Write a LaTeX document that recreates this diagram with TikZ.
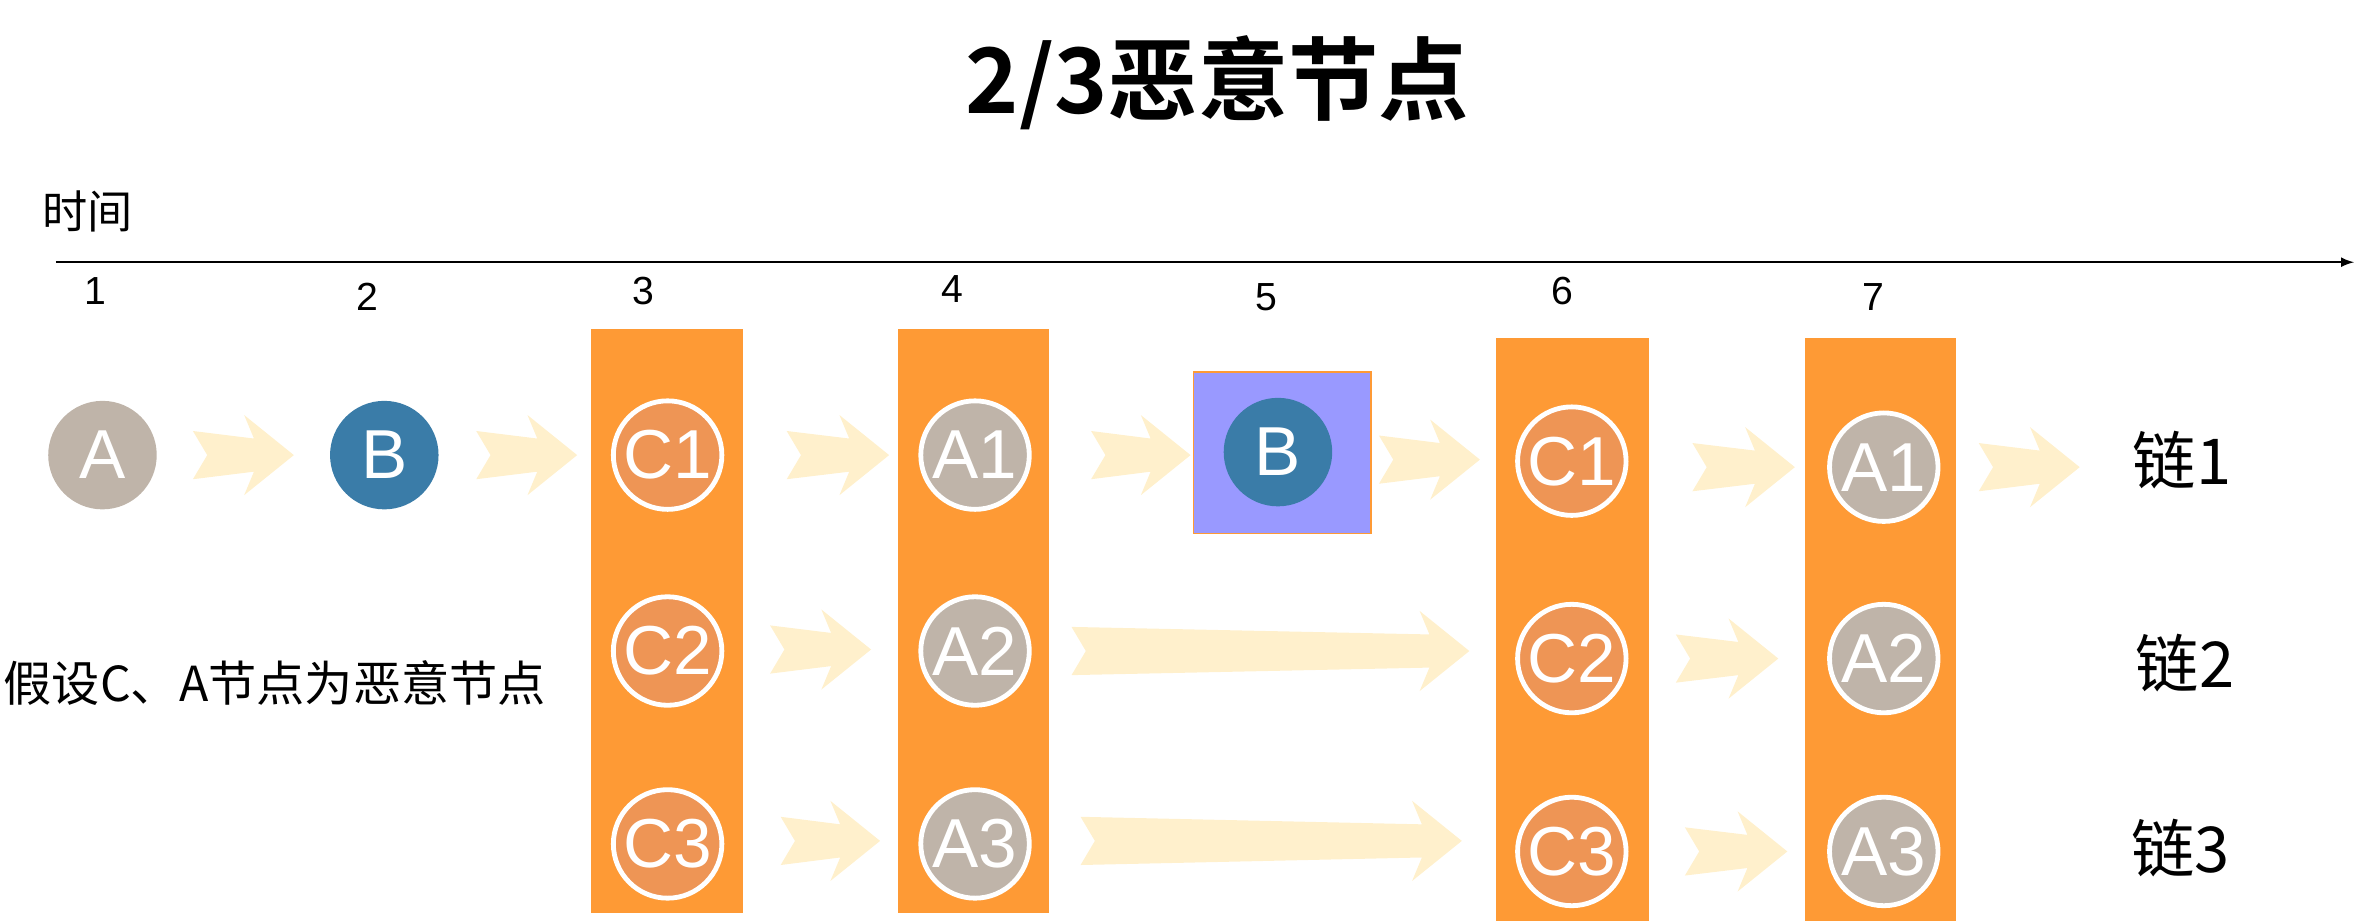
\documentclass[tikz,border=0pt]{standalone}
\usepackage{fontspec}
\setmainfont{Liberation Sans}
\newfontfamily\cjk{Noto Sans CJK SC}[BoldFont={Noto Sans CJK SC Bold}]
\definecolor{barc}{HTML}{FE9A35}
\definecolor{cc}{HTML}{EE9555}
\definecolor{ac}{HTML}{BFB4A9}
\definecolor{bc}{HTML}{3A7CA8}
\definecolor{boxc}{HTML}{9999FF}
\definecolor{arrowc}{HTML}{FFF0CC}
\newcommand\chev[3]{\fill[arrowc] (#1,#3-16) -- (#1+9.5,#3) -- (#1,#3+16) -- (#2-26.5,#3+11) -- (#2-33,#3+26.6) -- (#2,#3) -- (#2-33,#3-26.6) -- (#2-26.5,#3-11) -- cycle;}
\tikzset{
 nd/.style={circle,minimum size=36pt,inner sep=0pt,text=white,font=\fontsize{23}{23}\selectfont},
 ring/.style={nd,draw=white,line width=1.6pt},
 bar/.style={fill=barc},
 num/.style={font=\fontsize{13}{13}\selectfont},
 chain/.style={font=\cjk\fontsize{21}{21}\selectfont}
}
\begin{document}
\begin{tikzpicture}[x=0.5pt,y=-0.5pt]
\useasboundingbox (0,0) rectangle (1568,613);
\node[font=\cjk\bfseries\fontsize{30}{30}\selectfont] (title) at (808,55) {2/3恶意节点};
\node[font=\cjk\fontsize{15}{15}\selectfont] (time) at (58,140) {时间};
\coordinate (ax0) at (37,174); \coordinate (ax1) at (1562,174);
\draw[line width=0.5pt,-latex] (ax0) -- (ax1);
\foreach \x/\y/\t in {63/193/1,244/197/2,427/193/3,632/192/4,840/197/5,1037/193/6,1243/197/7}
  \node[num] (n\t) at (\x,\y) {\t};
% bars
\fill[bar] (392,218) rectangle (493,606);
\fill[bar] (596,218) rectangle (696,606);
\fill[bar] (993,224) rectangle (1094,611);
\fill[bar] (1198,224) rectangle (1298,611);
\filldraw[fill=boxc,draw=barc,line width=0.6pt] (792,247) rectangle (910,354);
% arrows
\chev{128}{195}{302}\chev{316}{383}{302}\chev{522}{590}{302}\chev{724}{790}{302}
\chev{915}{982}{305}\chev{1123}{1191}{310}\chev{1313}{1380}{310}
\chev{511}{578}{431}\chev{711}{975}{432}\chev{1112}{1180}{437}
\chev{518}{584}{558}\chev{717}{970}{558}\chev{1118}{1186}{565}
% nodes
\node[nd,fill=ac] (a0) at (68,302) {A};
\node[nd,fill=bc] (b0) at (255,302) {B};
\node[ring,fill=cc] (c1) at (443,302) {C1};
\node[ring,fill=cc] (c2) at (443,432) {C2};
\node[ring,fill=cc] (c3) at (443,560) {C3};
\node[ring,fill=ac] (a1) at (647,302) {A1};
\node[ring,fill=ac] (a2) at (647,432) {A2};
\node[ring,fill=ac] (a3) at (647,560) {A3};
\node[nd,fill=bc] (b5) at (848,300) {B};
\node[ring,fill=cc] (c61) at (1043,306) {C1};
\node[ring,fill=cc] (c62) at (1043,437) {C2};
\node[ring,fill=cc] (c63) at (1043,565) {C3};
\node[ring,fill=ac] (a71) at (1250,310) {A1};
\node[ring,fill=ac] (a72) at (1250,437) {A2};
\node[ring,fill=ac] (a73) at (1250,565) {A3};
\node[font=\cjk\fontsize{16}{16}\selectfont,anchor=west,inner sep=0pt] (note) at (2,453) {假设C、A节点为恶意节点};
\node[chain] (l1) at (1448,305) {链1};
\node[chain] (l2) at (1450,440) {链2};
\node[chain] (l3) at (1447,563) {链3};
\end{tikzpicture}
\end{document}
